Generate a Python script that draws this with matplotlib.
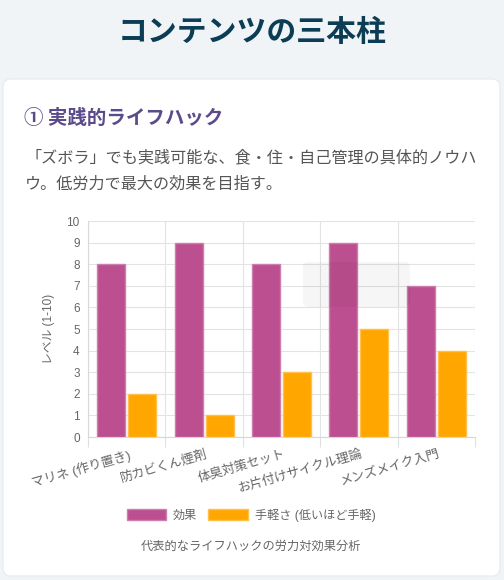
import numpy as np
import matplotlib
matplotlib.use("Agg")
import matplotlib.pyplot as plt
from matplotlib.patches import FancyBboxPatch, Patch

# dados do grafico
categorias = ["マリネ (作り置き)", "防カビくん煙剤", "体臭対策セット", "お片付けサイクル理論", "メンズメイク入門"]
efeito = [8, 9, 8, 9, 7]
facilidade = [2, 1, 3, 5, 4]
nomes_series = ["効果", "手軽さ (低いほど手軽)"]

titulo = "コンテンツの三本柱"
subtitulo = "① 実践的ライフハック"
descricao = "「ズボラ」でも実践可能な、食・住・自己管理の具体的ノウハ\nウ。低労力で最大の効果を目指す。"
legenda_baixo = "代表的なライフハックの労力対効果分析"
rotulo_y = "レベル (1-10)"

W, H = 504, 580
FONTES = ["Liberation Sans", "Noto Sans CJK JP", "DejaVu Sans"]
plt.rcParams["font.family"] = FONTES

fig = plt.figure(figsize=(W / 100, H / 100), dpi=100)
fig.patch.set_facecolor("#f1f4f7")

def px(x, y):
    # pixels -> coordenadas da figura
    return x / W, 1 - y / H

# cartao branco
card = FancyBboxPatch(px(3, 576), 497 / W, 497 / H,
                      boxstyle="round,pad=0,rounding_size=0.015",
                      transform=fig.transFigure, facecolor="white",
                      edgecolor="#e6e9ee", linewidth=0.8, zorder=-5)
fig.patches.append(card)

fig.text(*px(252, 32), titulo, ha="center", va="center", fontsize=21.5,
         fontweight="bold", color="#0b3d55", family=["Noto Sans CJK JP"])
fig.text(*px(24, 118), subtitulo, ha="left", va="center", fontsize=14,
         fontweight="bold", color="#5b4b8a", family=["Noto Sans CJK JP"])
fig.text(*px(25, 171), descricao, ha="left", va="center", fontsize=11.6,
         color="#555555", linespacing=1.75, family=["Noto Sans CJK JP"])

# eixos do grafico
ax = fig.add_axes([88 / W, 1 - 437 / H, 387 / W, 216 / H], zorder=2)
ax.patch.set_alpha(0)
x = np.arange(len(categorias))
largura = 0.36
ax.bar(x - 0.2, efeito, largura, label=nomes_series[0], color="#bc4f8f",
       edgecolor="#cc7fae", linewidth=1, zorder=3)
ax.bar(x + 0.2, facilidade, largura, label=nomes_series[1], color="#ffa600",
       edgecolor="#ffc04d", linewidth=1, zorder=3)

ax.set_xlim(-0.5, len(categorias) - 0.5)
ax.set_ylim(0, 10)
ax.set_yticks(range(0, 11))
ax.tick_params(axis="y", length=0, pad=6, labelsize=8.5, labelcolor="#666666")
ax.set_xticks(np.arange(len(categorias) + 1) - 0.5)
ax.set_xticklabels([])
ax.tick_params(axis="x", length=7, color="#e0e0e0", width=0.8)
ax.grid(True, color="#e3e3e3", linewidth=0.8, zorder=0)
for s in ["top", "right"]:
    ax.spines[s].set_visible(False)
for s in ["left", "bottom"]:
    ax.spines[s].set_color("#d8d8d8")
    ax.spines[s].set_linewidth(0.8)

# rotulos inclinados, ponta direita no centro da categoria
for i, nome in enumerate(categorias):
    ax.annotate(nome, xy=(i + 0.02, 0), xycoords=("data", "axes fraction"),
                xytext=(0, -8), textcoords="offset points",
                ha="right", va="top", rotation=16, rotation_mode="anchor",
                fontsize=9.3, color="#666666")

ax.set_ylabel(rotulo_y, fontsize=8.5, color="#666666", labelpad=8)

# sombra do tooltip
sombra = FancyBboxPatch(px(303, 307), 107 / W, 45 / H,
                        boxstyle="round,pad=0,rounding_size=0.01",
                        transform=fig.transFigure, facecolor="#000000",
                        alpha=0.035, edgecolor="none", zorder=10)
fig.patches.append(sombra)

handles = [Patch(facecolor="#bc4f8f", edgecolor="#cc7fae"),
           Patch(facecolor="#ffa600", edgecolor="#ffc04d")]
fig.legend(handles, nomes_series, loc="center", bbox_to_anchor=px(251, 515),
           ncol=2, frameon=False, fontsize=8.7, handlelength=3.3,
           handleheight=1.1, handletextpad=0.55, columnspacing=0.9,
           labelcolor="#666666")

fig.text(*px(251, 547), legenda_baixo, ha="center", va="center", fontsize=8.8,
         color="#666666")

fig.savefig("out.png", dpi=100, facecolor=fig.get_facecolor())
